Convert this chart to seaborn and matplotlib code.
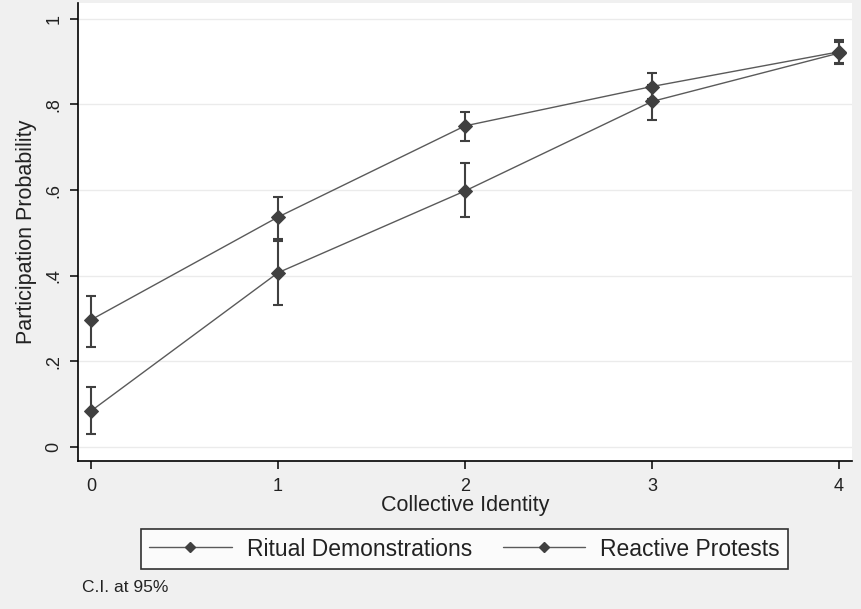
import numpy as np
import pandas as pd
import matplotlib
matplotlib.use('Agg')
import matplotlib.pyplot as plt
import seaborn as sns

## data
identity = [0, 1, 2, 3, 4]
series_names = ['Ritual Demonstrations', 'Reactive Protests']
ritual_prob = [0.297, 0.537, 0.750, 0.842, 0.923]
ritual_lo = [0.234, 0.486, 0.714, 0.812, 0.897]
ritual_hi = [0.353, 0.584, 0.783, 0.873, 0.951]
reactive_prob = [0.084, 0.407, 0.598, 0.807, 0.920]
reactive_lo = [0.030, 0.332, 0.537, 0.764, 0.895]
reactive_hi = [0.140, 0.482, 0.664, 0.845, 0.945]
y_ticks = [0, 0.2, 0.4, 0.6, 0.8, 1.0]
y_ticklabels = ['0', '.2', '.4', '.6', '.8', '1']

df = pd.DataFrame({
    'identity': identity * 2,
    'prob': ritual_prob + reactive_prob,
    'lo': ritual_lo + reactive_lo,
    'hi': ritual_hi + reactive_hi,
    'series': [series_names[0]] * 5 + [series_names[1]] * 5,
})

sns.set_theme(style='white')
plt.rcParams['font.family'] = ['Liberation Sans', 'DejaVu Sans']

bg = '#f0f0f0'
line_col = '#5a5a5a'
mark_col = '#404040'
txt_col = '#222222'

fig = plt.figure(figsize=(8.61, 6.09), dpi=100, facecolor=bg)
ax = fig.add_axes([0.0906, 0.243, 0.899, 0.752])
ax.set_facecolor('white')

# CI bars first, then lines with diamonds on top
for name in series_names:
    d = df[df['series'] == name]
    ax.errorbar(d['identity'], d['prob'],
                yerr=[d['prob'] - d['lo'], d['hi'] - d['prob']],
                fmt='none', ecolor=mark_col, elinewidth=1.5,
                capsize=3.7, capthick=1.5, zorder=3)

sns.lineplot(data=df, x='identity', y='prob', hue='series',
             palette=[line_col, line_col], marker='D', markersize=7,
             markerfacecolor=mark_col, markeredgecolor=mark_col,
             linewidth=1.0, ax=ax, legend=False, zorder=4)

ax.set_xlim(-0.07, 4.07)
ax.set_ylim(-0.033, 1.037)
ax.set_xticks(identity)
ax.set_yticks(y_ticks)
ax.set_yticklabels(y_ticklabels, rotation=90, va='center')
ax.tick_params(axis='both', direction='out', length=6, width=1.1, color='black',
               labelsize=13, labelcolor=txt_col, left=True, bottom=True)
ax.tick_params(axis='x', pad=6)
ax.tick_params(axis='y', pad=5)
ax.grid(axis='y', color='#ebebeb', linewidth=1)
ax.set_axisbelow(True)
for side in ['top', 'right']:
    ax.spines[side].set_visible(False)
for side in ['left', 'bottom']:
    ax.spines[side].set_color('black')
    ax.spines[side].set_linewidth(1.2)

ax.set_xlabel('Collective Identity', fontsize=15.5, color=txt_col, labelpad=0.5)
ax.set_ylabel('Participation Probability', fontsize=15.5, color=txt_col, labelpad=6)

# legend below the plot, boxed like Stata
handles = [plt.Line2D([], [], color=line_col, linewidth=1.0, marker='D',
                      markersize=5, markerfacecolor=mark_col, markeredgecolor=mark_col)
           for _ in series_names]
leg = fig.legend(handles, series_names, loc='center', bbox_to_anchor=(0.5395, 0.0985),
                 ncol=2, frameon=True, fancybox=False, fontsize=16.5,
                 handlelength=3.6, handletextpad=0.65, numpoints=1, columnspacing=1.35,
                 borderpad=0.35, edgecolor='black', facecolor='white')
leg.get_frame().set_linewidth(1.2)
for t in leg.get_texts():
    t.set_color(txt_col)

fig.text(0.095, 0.036, 'C.I. at 95%', fontsize=12.5, color=txt_col, va='center')

fig.savefig('out.png', dpi=100, facecolor=bg)
